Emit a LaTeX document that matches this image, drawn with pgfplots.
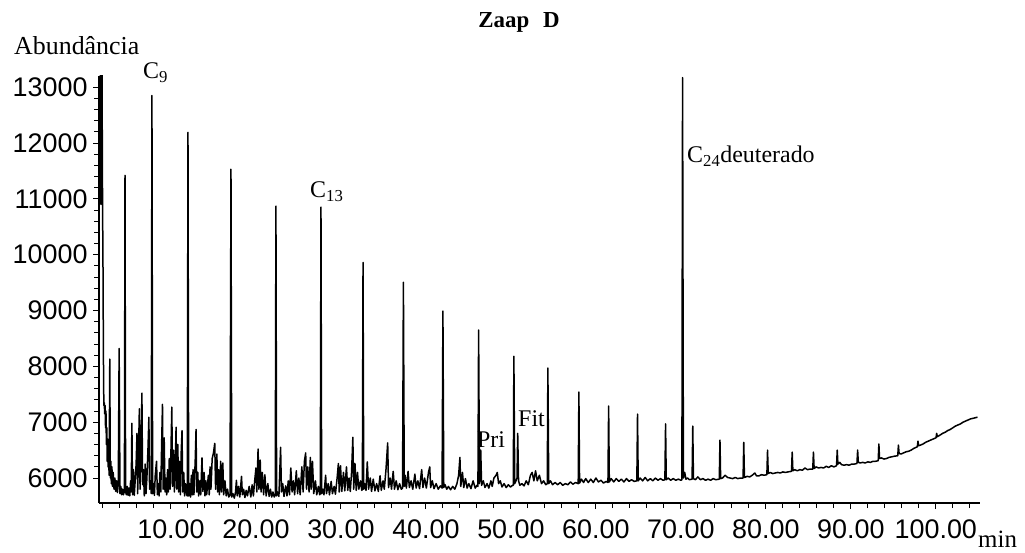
\documentclass[border=0pt]{standalone}
\usepackage{pgfplots}
\usepackage{pgfplotstable}
\pgfplotsset{compat=1.18}
\usepackage{fontspec}
\setmainfont{Liberation Serif}
\newfontfamily\arial{Liberation Sans}

\pgfplotstableread{
t v
1.55 13400
1.62 13400
1.70 13400
1.76 10900
1.82 13400
1.88 13400
1.95 10900
2.00 9800
2.05 8200
2.10 7300
2.15 7350
2.20 7150
2.25 7300
2.30 6900
2.35 7200
2.40 6600
2.45 6900
2.50 6300
2.55 6700
2.60 6200
2.65 6500
2.72 6050
2.80 8130
2.86 6000
2.92 6300
2.98 5900
3.05 6200
3.12 5850
3.20 6100
3.30 5800
3.40 6000
3.50 5760
3.60 5950
3.70 5740
3.80 5900
3.90 8320
4.00 5720
4.10 5850
4.20 5700
4.30 5800
4.40 5700
4.52 5760
4.59 11420
4.66 5760
4.75 5700
4.85 5850
4.95 5690
5.05 5820
5.15 5680
5.25 5950
5.32 5750
5.40 6980
5.48 5700
5.58 6150
5.68 5690
5.80 5980
5.90 6250
6.00 6800
6.08 5720
6.18 6450
6.28 7240
6.36 5800
6.46 6350
6.58 7520
6.66 5880
6.76 6150
6.86 5680
6.96 6250
7.06 5720
7.16 5980
7.30 6550
7.40 7090
7.48 5800
7.58 5950
7.68 5720
7.76 12850
7.84 5720
7.95 5900
8.05 5690
8.15 6050
8.30 6300
8.40 5700
8.50 5900
8.60 5680
8.70 6100
8.80 5750
8.90 6600
9.00 7320
9.08 5800
9.20 6720
9.30 5750
9.40 6000
9.50 5700
9.60 6150
9.70 5750
9.80 6350
9.90 5800
10.00 6500
10.10 7270
10.18 5850
10.30 6500
10.40 5750
10.50 6200
10.60 6910
10.68 5800
10.80 6600
10.90 5750
11.00 6300
11.10 5700
11.20 6450
11.30 6850
11.38 5750
11.50 6100
11.60 5680
11.70 5900
11.85 5700
11.92 5680
12.00 12190
12.08 5680
12.20 5900
12.30 5660
12.40 6050
12.50 5700
12.60 6150
12.70 5700
12.85 6300
12.95 6870
13.03 5750
13.15 6100
13.25 5680
13.40 5950
13.50 5700
13.65 6360
13.75 5760
13.90 6100
14.00 5680
14.10 5950
14.20 5700
14.40 6050
14.50 5700
14.60 6200
14.70 5800
14.85 6350
15.00 6450
15.15 6620
15.25 5800
15.40 6430
15.50 5750
15.60 6150
15.70 5700
15.85 6300
15.95 5750
16.10 6270
16.20 5700
16.35 5950
16.50 5680
16.65 5800
16.80 5660
16.95 5700
17.06 11530
17.15 5660
17.30 5720
17.45 5640
17.60 5750
17.70 5960
17.80 5680
17.95 5850
18.10 5660
18.30 6030
18.40 5700
18.55 5800
18.70 5650
18.85 5780
19.00 5680
19.20 5850
19.40 5660
19.55 5880
19.70 5680
19.85 5950
20.00 6180
20.10 5750
20.25 6520
20.35 5800
20.50 6320
20.60 5750
20.75 6100
20.90 5700
21.05 6060
21.20 5680
21.40 5900
21.55 5670
21.70 5800
21.85 5660
22.00 5750
22.15 5660
22.27 5700
22.35 10870
22.43 5680
22.55 5750
22.70 5670
22.90 6550
23.00 5750
23.15 5900
23.30 5670
23.50 5860
23.65 5680
23.80 5950
23.95 5700
24.10 6180
24.25 5750
24.40 5950
24.55 5700
24.75 6130
24.90 5720
25.05 6000
25.20 5700
25.40 6200
25.55 5750
25.70 6300
25.85 6450
25.95 5800
26.10 6200
26.25 5750
26.40 6370
26.50 5800
26.65 6300
26.80 5720
27.00 5950
27.15 5700
27.35 5850
27.50 5700
27.57 5720
27.65 10850
27.73 5720
27.85 5800
28.00 5700
28.20 6050
28.30 5720
28.50 5900
28.65 5700
28.85 5940
29.00 5720
29.20 5850
29.35 5710
29.55 6000
29.70 6260
29.80 5750
29.95 6220
30.10 5760
30.30 6100
30.45 5770
30.65 6200
30.80 5780
30.95 6000
31.10 5760
31.25 6100
31.40 6730
31.50 5800
31.65 6260
31.80 5780
31.95 6100
32.10 5800
32.30 5950
32.45 5780
32.52 5800
32.60 9860
32.68 5800
32.80 5900
32.95 5780
33.10 6290
33.25 5800
33.45 6000
33.60 5760
33.80 5980
34.00 5770
34.20 5900
34.40 5760
34.60 6040
34.75 5780
34.95 5950
35.10 5800
35.30 6150
35.50 6630
35.60 5830
35.80 6000
35.95 5800
36.15 6120
36.30 5800
36.50 5950
36.70 5790
36.90 5900
37.10 5800
37.25 5820
37.35 9505
37.45 5850
37.55 6050
37.70 5820
37.90 6120
38.05 5830
38.25 5950
38.45 5800
38.70 6070
38.85 5820
39.05 5950
39.25 5810
39.50 6150
39.65 5830
39.85 6000
40.05 5820
40.30 6100
40.45 6200
40.55 5830
40.75 5950
40.95 5810
41.20 5900
41.45 5800
41.70 5860
41.90 5820
42.00 8990
42.10 5830
42.25 5880
42.45 5800
42.65 5850
42.90 5790
43.15 5850
43.40 5800
43.65 5900
43.85 6050
44.00 6370
44.10 5850
44.30 6100
44.45 5830
44.65 5990
44.85 5820
45.05 5900
45.30 5810
45.55 5950
45.80 5820
46.00 5870
46.12 5850
46.20 8650
46.30 5900
46.45 6500
46.55 5870
46.75 5950
46.95 5830
47.20 5900
47.40 5820
47.65 5950
47.80 5850
48.00 6000
48.25 6050
48.40 6100
48.55 5900
48.75 5950
48.95 5840
49.20 5900
49.45 5830
49.70 5880
49.95 5840
50.20 5870
50.28 5870
50.35 8180
50.45 5900
50.60 5950
50.72 6000
50.80 6800
50.90 5950
51.05 5870
51.30 5900
51.55 5860
51.80 5950
52.05 5880
52.30 6050
52.50 6100
52.70 5950
52.90 6130
53.10 5950
53.35 6050
53.60 5900
53.85 5950
54.10 5880
54.28 5900
54.35 7970
54.45 5900
54.65 5950
54.90 5880
55.20 5920
55.50 5880
55.80 5920
56.10 5870
56.40 5900
56.70 5880
57.00 5930
57.30 5890
57.60 5920
57.92 5900
58.00 7540
58.08 5910
58.30 5980
58.55 5920
58.80 5990
59.10 5920
59.40 5980
59.70 5920
60.00 6000
60.30 5930
60.60 5960
60.90 5910
61.20 5940
61.42 5920
61.50 7290
61.58 5930
61.80 5990
62.10 5930
62.40 5990
62.70 5940
63.00 5980
63.30 5930
63.60 5990
63.90 5940
64.20 5970
64.50 5940
64.82 5950
64.90 7145
64.98 5950
65.20 6000
65.50 5950
65.80 6010
66.10 5950
66.40 5990
66.70 5950
67.00 6000
67.30 5960
67.60 5990
67.90 5960
68.12 5970
68.20 6970
68.28 5970
68.50 6000
68.80 5960
69.10 5990
69.40 5960
69.70 5980
70.00 5960
70.12 5970
70.20 13170
70.30 6000
70.45 6100
70.60 5980
70.80 6000
71.00 5970
71.32 5980
71.40 6930
71.48 5990
71.70 5970
72.00 6020
72.30 5970
72.60 5990
72.90 5960
73.20 5980
73.50 5960
73.80 5990
74.10 5970
74.52 5980
74.60 6680
74.68 5990
74.90 6000
75.20 6050
75.50 6010
75.80 6000
76.10 5990
76.40 6010
76.70 5990
77.00 6000
77.32 6000
77.40 6640
77.48 6010
77.80 6030
78.10 6020
78.40 6050
78.70 6090
78.90 6040
79.20 6040
79.50 6060
79.80 6050
80.12 6060
80.20 6500
80.28 6080
80.50 6100
80.80 6080
81.10 6090
81.40 6100
81.70 6090
82.00 6110
82.30 6100
82.60 6110
83.02 6120
83.10 6465
83.18 6130
83.40 6150
83.70 6130
84.00 6150
84.30 6140
84.60 6180
84.90 6150
85.20 6160
85.52 6160
85.60 6465
85.68 6170
85.90 6200
86.20 6180
86.50 6190
86.80 6180
87.10 6210
87.40 6190
87.70 6220
88.00 6200
88.32 6220
88.40 6500
88.48 6250
88.70 6280
88.90 6240
89.20 6230
89.50 6240
89.80 6230
90.10 6250
90.40 6250
90.72 6260
90.80 6500
90.88 6280
91.10 6270
91.40 6280
91.70 6270
92.00 6290
92.30 6280
92.60 6300
92.90 6300
93.22 6310
93.30 6610
93.38 6350
93.60 6360
93.90 6340
94.20 6350
94.50 6370
94.80 6380
95.10 6390
95.52 6400
95.60 6590
95.68 6440
95.90 6430
96.20 6450
96.50 6470
96.80 6480
97.10 6500
97.40 6530
97.82 6560
97.90 6660
97.98 6580
98.20 6590
98.50 6610
98.80 6640
99.10 6660
99.40 6680
99.70 6700
100.02 6720
100.10 6800
100.18 6740
100.50 6770
100.80 6800
101.10 6820
101.40 6850
101.70 6870
102.00 6900
102.30 6930
102.60 6950
102.90 6970
103.20 7000
103.50 7020
103.80 7040
104.10 7060
104.40 7070
104.90 7090
}\chrom

\begin{document}
\begin{tikzpicture}
\path[use as bounding box] (0,0) rectangle (1025bp,553bp);
\begin{axis}[
  at={(99bp,50bp)}, anchor=south west,
  scale only axis, width=881bp, height=427bp,
  xmin=1.53, xmax=105.2, ymin=5553, ymax=13200,
  axis lines=left, axis line style={-, line width=1.2bp},
  tick align=outside,
  xtick={10,20,...,100}, minor xtick={2,4,...,104},
  ytick={6000,7000,...,13000}, minor y tick num=4,
  scaled y ticks=false, scaled x ticks=false,
  major tick length=6bp, minor tick length=5bp,
  tick style={line width=1bp, black},
  xticklabel={\pgfmathprintnumber[fixed,fixed zerofill,precision=2]{\tick}},
  /pgf/number format/1000 sep={},
  /pgf/number format/assume math mode=true,
  tick label style={font=\arial\fontsize{27}{27}\selectfont},
  xticklabel style={yshift=-7bp},
  yticklabel style={xshift=-2bp},
  clip=true,
]
\addplot[black, line width=1.5bp, line join=round] table[x=t, y=v] {\chrom};
\end{axis}
\node[anchor=base, font=\bfseries\fontsize{23}{24}\selectfont] at (519bp,525bp) {Zaap\hspace{0.6em}D};
\node[anchor=base west, inner sep=0pt, font=\fontsize{26}{26}\selectfont] at (14bp,498bp) {Abundância};
\node[anchor=base west, inner sep=0pt, font=\fontsize{24}{24}\selectfont] at (143bp,474bp) {C\textsubscript{9}};
\node[anchor=base west, inner sep=0pt, font=\fontsize{24}{24}\selectfont] at (310bp,355bp) {C\textsubscript{13}};
\node[anchor=base west, inner sep=0pt, font=\fontsize{24}{24}\selectfont] at (687bp,390bp) {C\textsubscript{24}deuterado};
\node[anchor=base west, inner sep=0pt, font=\fontsize{24}{24}\selectfont] at (477bp,105bp) {Pri};
\node[anchor=base west, inner sep=0pt, font=\fontsize{24}{24}\selectfont] at (518bp,126bp) {Fit};
\node[anchor=base west, inner sep=0pt, font=\fontsize{25}{25}\selectfont] at (978bp,6bp) {min};
\end{tikzpicture}
\end{document}
